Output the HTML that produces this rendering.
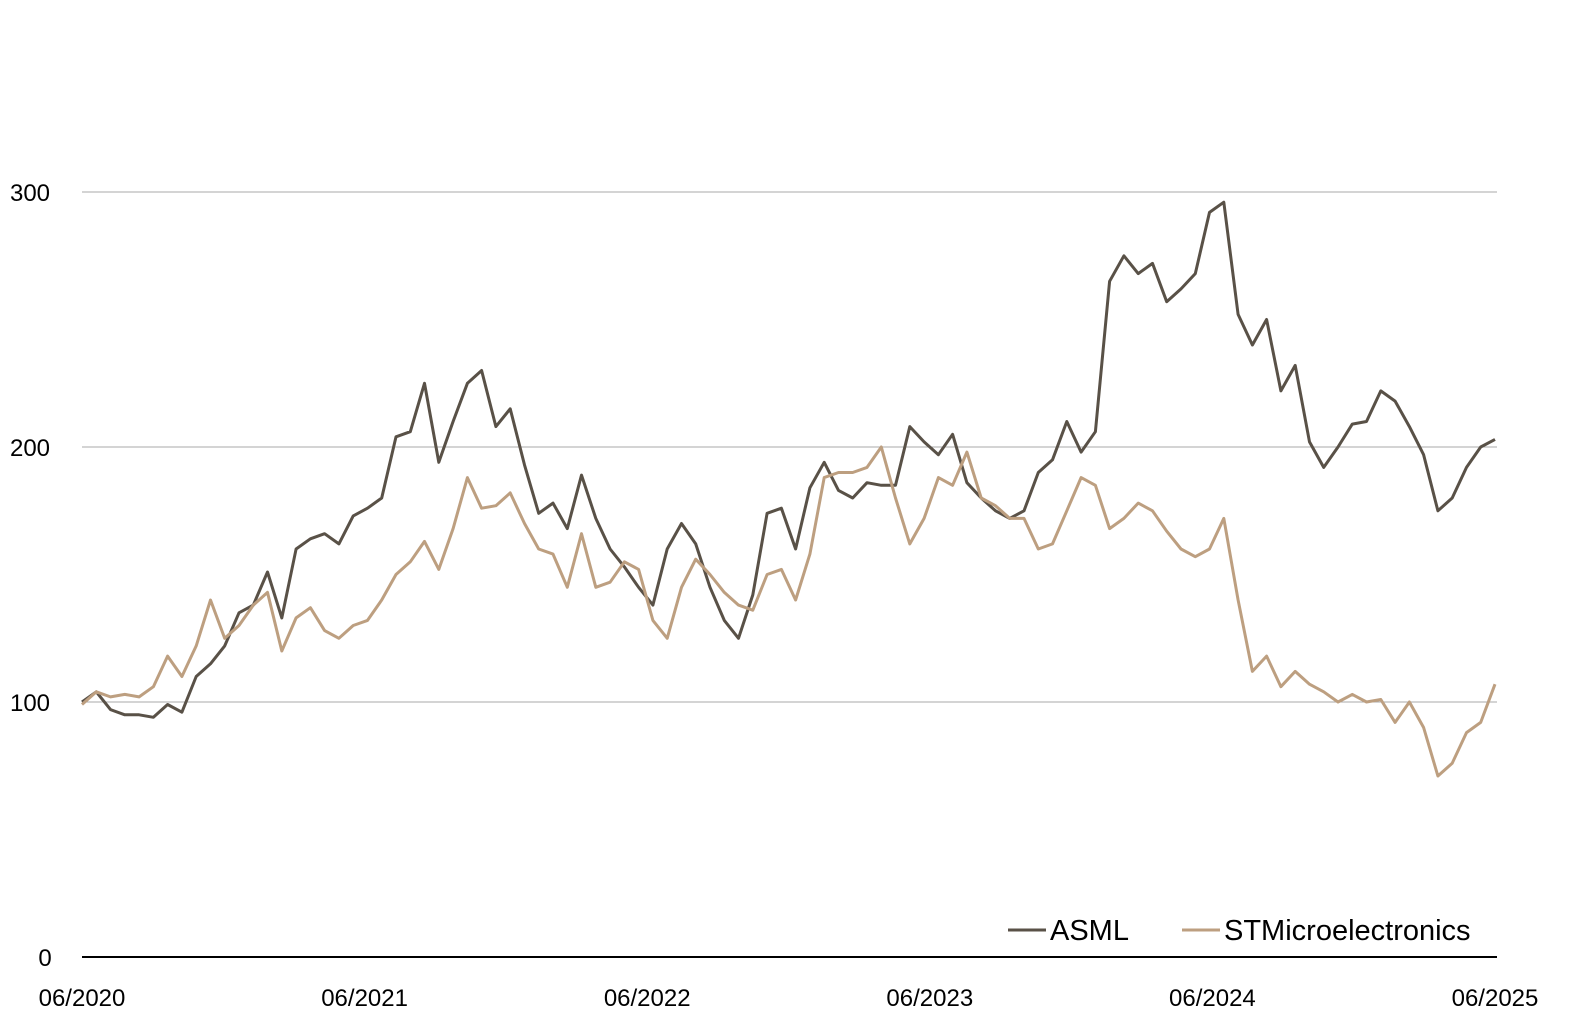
<!DOCTYPE html>
<html><head><meta charset="utf-8"><style>
body{margin:0;background:#fff;}
svg{display:block;font-family:"Liberation Sans",sans-serif;}
</style></head><body>
<svg id="chart" width="1583" height="1029" viewBox="0 0 1583 1029">
<g id="grid"></g>
<g id="ylabels"></g>
<g id="xlabels"></g>
<line x1="82" y1="957" x2="1497" y2="957" stroke="#000" stroke-width="2"/>
<g id="series"></g>
<g>
<line x1="1008" y1="930" x2="1046" y2="930" stroke="#595147" stroke-width="3"/>
<text x="1050" y="940" font-size="29" fill="#000">ASML</text>
<line x1="1182" y1="930" x2="1220" y2="930" stroke="#bd9f80" stroke-width="3"/>
<text x="1224" y="940" font-size="29" fill="#000">STMicroelectronics</text>
</g>
</svg>
<script>
const xTicks=["06/2020","06/2021","06/2022","06/2023","06/2024","06/2025"];
const yTicks=[0,100,200,300];
const asml=[100,104,97,95,95,94,99,96,110,115,122,135,138,151,133,160,164,166,162,173,176,180,204,206,225,194,210,225,230,208,215,193,174,178,168,189,172,160,153,145,138,160,170,162,145,132,125,142,174,176,160,184,194,183,180,186,185,185,208,202,197,205,186,180,175,172,175,190,195,210,198,206,265,275,268,272,257,262,268,292,296,252,240,250,222,232,202,192,200,209,210,222,218,208,197,175,180,192,200,203];
const stm=[99,104,102,103,102,106,118,110,122,140,125,130,138,143,120,133,137,128,125,130,132,140,150,155,163,152,168,188,176,177,182,170,160,158,145,166,145,147,155,152,132,125,145,156,150,143,138,136,150,152,140,158,188,190,190,192,200,180,162,172,188,185,198,180,177,172,172,160,162,175,188,185,168,172,178,175,167,160,157,160,172,140,112,118,106,112,107,104,100,103,100,101,92,100,90,71,76,88,92,107];
const NS="http://www.w3.org/2000/svg";
const x0=82,x1=1495,yBase=957,yScale=2.55;
const xPos=i=>x0+(x1-x0)*i/(asml.length-1);
const yPos=v=>yBase-v*yScale;
const grid=document.getElementById('grid'),yl=document.getElementById('ylabels'),xl=document.getElementById('xlabels'),ser=document.getElementById('series');
yTicks.forEach(t=>{
 if(t>0){const l=document.createElementNS(NS,'line');
 
 
 l.setAttribute('x1',82);l.setAttribute('x2',1497);l.setAttribute('y1',yPos(t));l.setAttribute('y2',yPos(t));
 l.setAttribute('stroke','#aaa');l.setAttribute('stroke-width','1');grid.appendChild(l);}
 const tx=document.createElementNS(NS,'text');
 
 
 tx.setAttribute('x',t===0?45:30);tx.setAttribute('y',yPos(t)+9);tx.setAttribute('text-anchor','middle');tx.setAttribute('font-size','24');
 tx.textContent=t;yl.appendChild(tx);
});
xTicks.forEach((t,i)=>{
 const tx=document.createElementNS(NS,'text');
 
 
 tx.setAttribute('x',x0+(x1-x0)*i/(xTicks.length-1));tx.setAttribute('y',1006);tx.setAttribute('text-anchor','middle');tx.setAttribute('font-size','24');
 tx.textContent=t;xl.appendChild(tx);
});
function line(data,color,name){
 const p=document.createElementNS(NS,'polyline');
 
 
 p.setAttribute('points',data.map((v,i)=>xPos(i).toFixed(1)+','+yPos(v).toFixed(1)).join(' '));
 p.setAttribute('fill','none');p.setAttribute('stroke',color);p.setAttribute('stroke-width','3');p.setAttribute('stroke-linejoin','round');
 ser.appendChild(p);
}
line(asml,'#595147','asml-line');
line(stm,'#bd9f80','stmicro-line');
</script>
</body></html>
